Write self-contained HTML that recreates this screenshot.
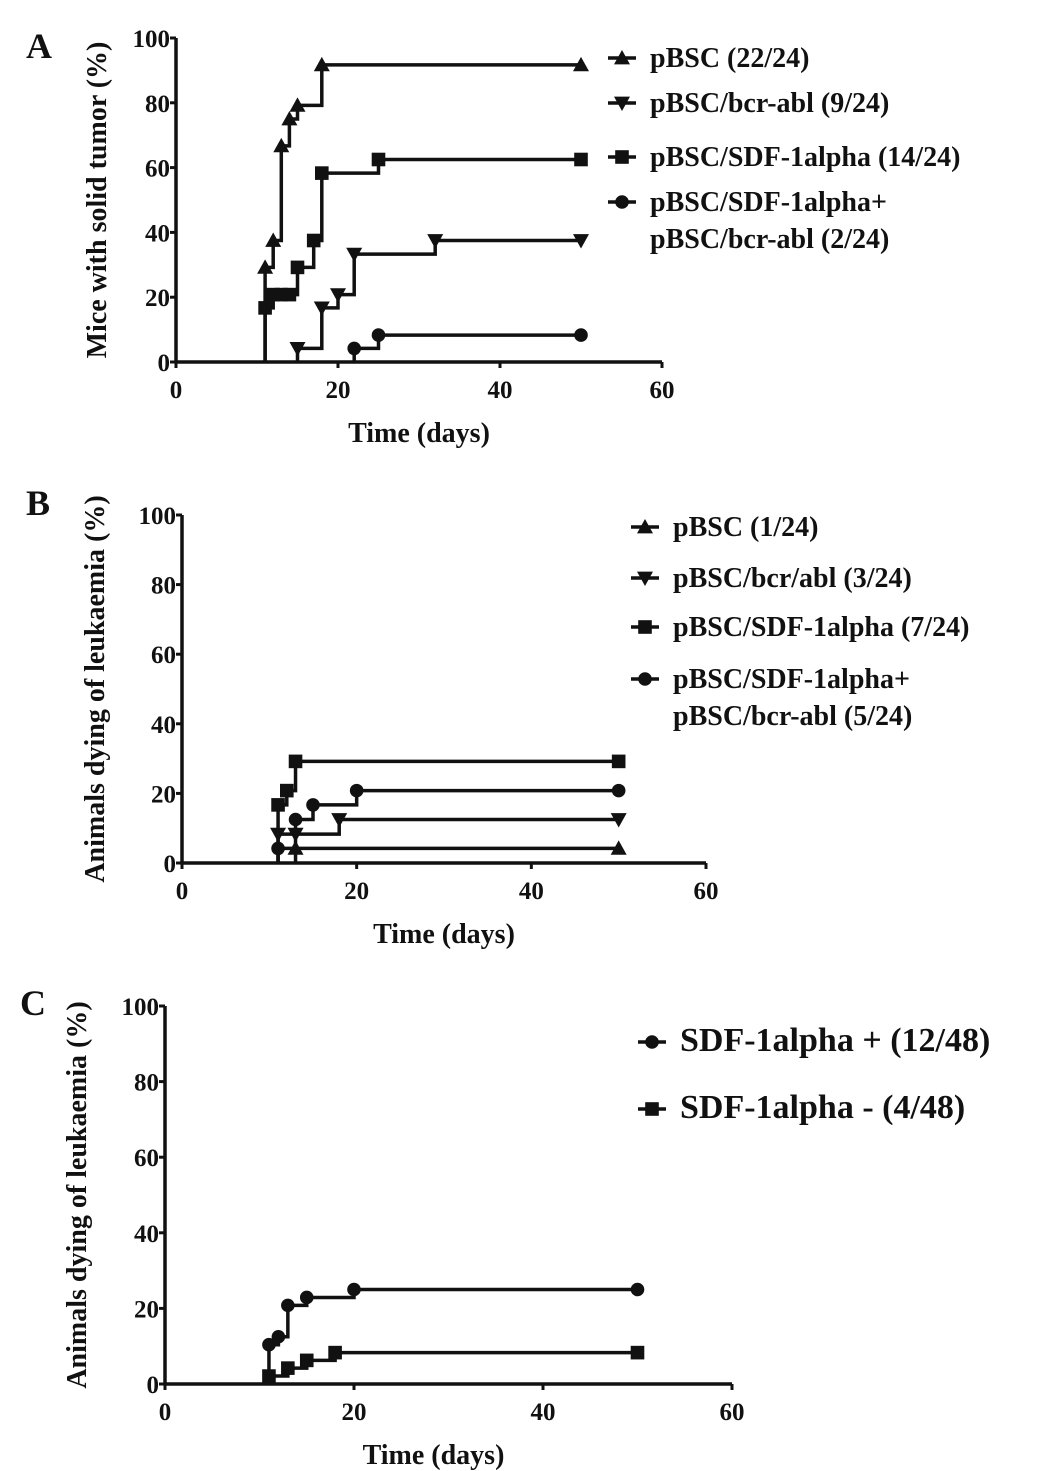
<!DOCTYPE html>
<html><head><meta charset="utf-8"><style>
html,body{margin:0;padding:0;background:#fff}
svg{display:block}
text{font-family:"Liberation Serif",serif;font-weight:bold;fill:#111}
</style></head><body>
<svg id="fig" width="1051" height="1471" viewBox="0 0 1051 1471"></svg>
<script>
// Panel A data
const aCategories = ["pBSC (22/24)","pBSC/bcr-abl (9/24)","pBSC/SDF-1alpha (14/24)","pBSC/SDF-1alpha+|pBSC/bcr-abl (2/24)"];
const aTimes = [[11,12,13,14,15,18,50],[15,18,20,22,32,50],[11,12,13,14,15,17,18,25,50],[22,25,50]];
const aValues = [[29.2,37.5,66.7,75,79.2,91.7,91.7],[4.2,16.7,20.8,33.3,37.5,37.5],[16.7,20.8,20.8,20.8,29.2,37.5,58.3,62.5,62.5],[4.2,8.3,8.3]];
// Panel B data
const bCategories = ["pBSC (1/24)","pBSC/bcr/abl (3/24)","pBSC/SDF-1alpha (7/24)","pBSC/SDF-1alpha+|pBSC/bcr-abl (5/24)"];
const bTimes = [[13,50],[11,13,18,50],[11,12,13,50],[11,13,15,20,50]];
const bValues = [[4.2,4.2],[8.3,8.3,12.5,12.5],[16.7,20.8,29.2,29.2],[4.2,12.5,16.7,20.8,20.8]];
// Panel C data
const cCategories = ["SDF-1alpha + (12/48)","SDF-1alpha - (4/48)"];
const cTimes = [[11,12,13,15,20,50],[11,13,15,18,50]];
const cValues = [[10.4,12.5,20.8,22.9,25,25],[2.1,4.2,6.25,8.3,8.3]];
const xTicks = [0,20,40,60];
const yTicks = [0,20,40,60,80,100];

const NS="http://www.w3.org/2000/svg";
const svg=document.getElementById('fig');
function mk(tag,attrs,parent){const e=document.createElementNS(NS,tag);for(const k in attrs)e.setAttribute(k,attrs[k]);(parent||svg).appendChild(e);return e;}
function marker(g,type,x,y,s){
  let e;
  if(type==='tri') e=mk('polygon',{points:`${x},${y-s} ${x-s},${y+s*0.8} ${x+s},${y+s*0.8}`,fill:'#111'},g);
  else if(type==='itri') e=mk('polygon',{points:`${x},${y+s} ${x-s},${y-s*0.8} ${x+s},${y-s*0.8}`,fill:'#111'},g);
  else if(type==='sq') e=mk('rect',{x:x-s*0.85,y:y-s*0.85,width:s*1.7,height:s*1.7,fill:'#111'},g);
  else e=mk('circle',{cx:x,cy:y,r:s*0.85,fill:'#111'},g);
  
  
}
function panel(o){
  const g=mk('g',{});
  
  
  const sx=v=>o.x0+(o.x1-o.x0)*v/60;
  const sy=v=>o.y0-(o.y0-o.y1)*v/100;
  const ax=mk('path',{d:`M${o.x0},${o.y1} V${o.y0} H${o.x1}`,stroke:'#111','stroke-width':3.5,fill:'none'},g);
  
  
  yTicks.forEach(t=>{
    mk('line',{x1:o.x0-6,x2:o.x0,y1:sy(t),y2:sy(t),stroke:'#111','stroke-width':3},g);
    const tx=mk('text',{x:o.x0-6,y:sy(t)+9,'text-anchor':'end','font-size':o.fs},g);
    tx.textContent=t;
    
    
  });
  xTicks.forEach(t=>{
    mk('line',{x1:sx(t),x2:sx(t),y1:o.y0,y2:o.y0+6,stroke:'#111','stroke-width':3},g);
    const tx=mk('text',{x:sx(t),y:o.y0+36,'text-anchor':'middle','font-size':o.fs},g);
    tx.textContent=t;
    
    
  });
  const xt=mk('text',{x:(o.x0+o.x1)/2-(o.id==='c'?15:0),y:o.y0+80,'text-anchor':'middle','font-size':o.tfs},g);
  xt.textContent='Time (days)';
  
  
  const yc=(o.y0+o.y1)/2;
  const yt=mk('text',{x:o.ytx,y:yc,'text-anchor':'middle','font-size':o.tfs,transform:`rotate(-90 ${o.ytx} ${yc})`},g);
  yt.textContent=o.ytitle;
  
  
  const pl=mk('text',{x:o.lx,y:o.ly,'font-size':36},g);
  pl.textContent=o.id.toUpperCase();
  
  
  o.times.forEach((ts,i)=>{
    const vs=o.values[i];
    let d=`M${sx(ts[0])},${sy(0)}`;
    ts.forEach((t,j)=>{
      if(j>0) d+=` H${sx(t)}`;
      d+=` V${sy(vs[j])}`;
    });
    const p=mk('path',{d:d,stroke:'#111','stroke-width':3.5,fill:'none'},g);
    
    
    ts.forEach((t,j)=>marker(g,o.types[i],sx(t),sy(vs[j]),o.ms));
  });
  o.cats.forEach((c,i)=>{
    const y=o.legY[i];
    const lg=mk('g',{},g);
    
    
    mk('line',{x1:o.legX-14,x2:o.legX+14,y1:y,y2:y,stroke:'#111','stroke-width':3.5},lg);
    marker(lg,o.types[i],o.legX,y,o.ms);
    c.split('|').forEach((line,k)=>{
      const t=mk('text',{x:o.legX+28,y:y+9+k*37,'font-size':o.lfs},lg);
      t.textContent=line;
    });
  });
}
panel({id:'a',x0:176,x1:662,y0:362,y1:38,fs:25,tfs:28,ytx:106,ytitle:'Mice with solid tumor (%)',lx:26,ly:58,
  times:aTimes,values:aValues,cats:aCategories,types:['tri','itri','sq','circ'],ms:8,
  legX:622,legY:[58,103,157,202],lfs:28});
panel({id:'b',x0:182,x1:706,y0:863,y1:515,fs:25,tfs:28,ytx:104,ytitle:'Animals dying of leukaemia (%)',lx:26,ly:515,
  times:bTimes,values:bValues,cats:bCategories,types:['tri','itri','sq','circ'],ms:8,
  legX:645,legY:[527,578,627,679],lfs:28});
panel({id:'c',x0:165,x1:732,y0:1384,y1:1006,fs:25,tfs:28,ytx:86,ytitle:'Animals dying of leukaemia (%)',lx:20,ly:1015,
  times:cTimes,values:cValues,cats:cCategories,types:['circ','sq'],ms:8,
  legX:652,legY:[1042,1109],lfs:34});
</script>
</body></html>
